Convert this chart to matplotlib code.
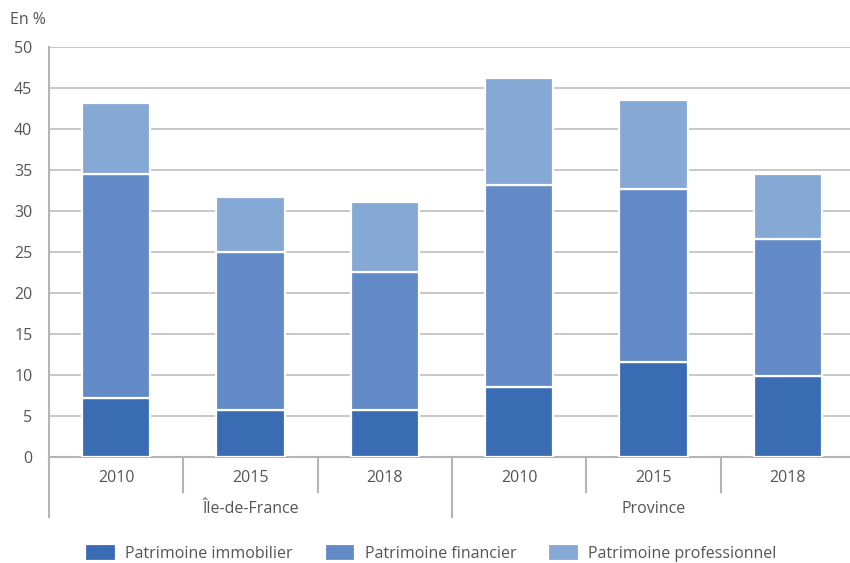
import numpy as np
import matplotlib.pyplot as plt

plt.rcParams['font.family'] = ['Open Sans', 'DejaVu Sans']

groups = ["Île-de-France", "Province"]
years = ["2010", "2015", "2018", "2010", "2015", "2018"]
immobilier = np.array([7.2, 5.7, 5.7, 8.5, 11.6, 9.9])
financier = np.array([27.3, 19.3, 16.9, 24.7, 21.1, 16.7])
professionnel = np.array([8.7, 6.7, 8.5, 13.0, 10.8, 7.9])

series = ["Patrimoine immobilier", "Patrimoine financier", "Patrimoine professionnel"]
colors = ["#3a6cb4", "#628ac6", "#86a8d4"]
grey = "#555555"
line_grey = "#b4b4b4"

fig = plt.figure(figsize=(8.5, 5.63), dpi=100)
ax = fig.add_axes([49 / 850, 1 - 457 / 563, 806 / 850, 410 / 563])

x = np.arange(len(years))
bottom = np.zeros(len(years))
for vals, col, lab in zip([immobilier, financier, professionnel], colors, series):
    ax.bar(x, vals, width=0.51, bottom=bottom, color=col, edgecolor="white",
           linewidth=1.6, label=lab, zorder=3)
    bottom += vals

ax.set_ylim(0, 50)
ax.set_xlim(-0.5, 5.5)
ax.set_yticks(np.arange(0, 51, 5))
ax.yaxis.grid(True, color="#c4c4c4", linewidth=1.3, zorder=0)
ax.tick_params(axis="y", length=0, pad=12, labelsize=11.5, labelcolor=grey)
ax.set_xticks([])
for s in ["top", "right"]:
    ax.spines[s].set_visible(False)
for s in ["left", "bottom"]:
    ax.spines[s].set_color(line_grey)
    ax.spines[s].set_linewidth(1.5)

# year labels and separators under the axis
tr = ax.get_xaxis_transform()
for i, yr in enumerate(years):
    ax.text(i, -0.05, yr, transform=tr, ha="center", va="center",
            fontsize=11.5, color=grey)
for b in [0.5, 1.5, 3.5, 4.5, 5.5]:
    ax.plot([b, b], [0, -0.0854], transform=tr, color=line_grey, lw=1.5, clip_on=False)
for b in [-0.5, 2.5]:
    ax.plot([b, b], [0, -0.146], transform=tr, color=line_grey, lw=1.5, clip_on=False)
for g, pos in zip(groups, [1, 4]):
    ax.text(pos, -0.128, g, transform=tr, ha="center", va="center",
            fontsize=11.5, color=grey)

fig.text(10 / 850, 1 - 20 / 563, "En %", ha="left", va="center", fontsize=11.5, color=grey)

fig.legend(loc="center", bbox_to_anchor=(0.507, 1 - 553 / 563), ncol=3, frameon=False,
           fontsize=11.5, labelcolor=grey, handlelength=1.9, handleheight=1.3,
           columnspacing=2.0, handletextpad=0.6)

fig.savefig("out.png", dpi=100)
